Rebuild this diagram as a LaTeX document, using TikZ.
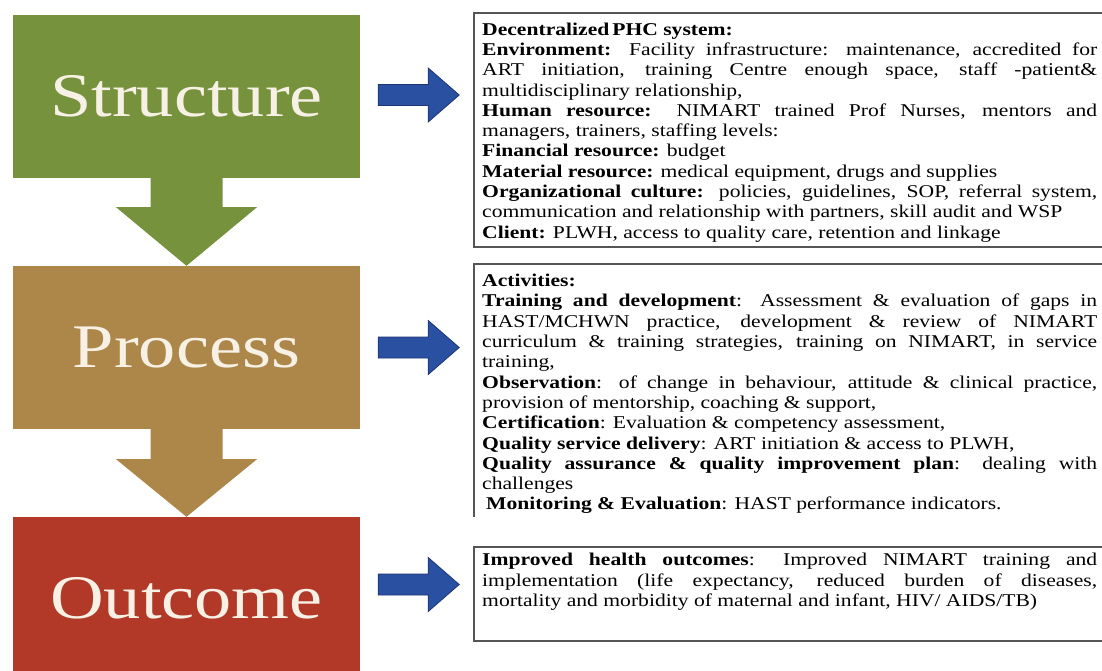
\documentclass[tikz,border=0pt]{standalone}
\usepackage{fontspec}
\setmainfont{Liberation Serif}[FakeStretch=1.2]
\usetikzlibrary{positioning,calc}

\definecolor{strucol}{RGB}{119,146,61}
\definecolor{proccol}{RGB}{173,134,73}
\definecolor{outccol}{RGB}{178,57,40}
\definecolor{labelcol}{RGB}{246,241,228}
\definecolor{arrcol}{RGB}{42,80,162}
\definecolor{arrdark}{RGB}{28,52,115}
\definecolor{linecol}{RGB}{85,85,85}

\tikzset{
  stage/.style={fill=#1, minimum width=347pt, minimum height=163pt, inner sep=0pt,
    text=labelcol, font=\fontsize{62}{70}\selectfont},
  info/.style={anchor=north west, text width=615pt, align=justify, inner sep=0pt,
    font=\fontsize{18}{20.3}\selectfont},
  boxline/.style={draw=linecol, line width=1.6pt},
}

\begin{document}
\begin{tikzpicture}[x=1pt, y=-1pt]
  \useasboundingbox (0,0) rectangle (1102,670);
  % stages
  \node[stage=strucol] (stru) at (186.5,96.5) {Structure};
  \node[stage=proccol] (proc) at (186.5,347.5) {Process};
  \node[stage=outccol] (outc) at (186.5,598.5) {Outcome};
  % arrows between stages
  \fill[strucol] ($(stru.south)+(-36,0)$) -- ++(0,29) -- ++(-34.5,0) -- (proc.north)
    -- ($(stru.south)+(70.5,29)$) -- ++(-34.5,0) -- ($(stru.south)+(36,0)$) -- cycle;
  \fill[proccol] ($(proc.south)+(-36,0)$) -- ++(0,30) -- ++(-34.5,0) -- (outc.north)
    -- ($(proc.south)+(70.5,30)$) -- ++(-34.5,0) -- ($(proc.south)+(36,0)$) -- cycle;
  % arrows to the text boxes
  \foreach \s/\dy in {stru/-1.5,proc/0,outc/-14}
    \filldraw[fill=arrcol, draw=arrdark, line width=0.8pt, line join=miter]
      ($(\s.east)+(18,\dy-10.5)$) -- ++(50,0) -- ++(0,-16.5) -- ++(31,27)
      -- ++(-31,27) -- ++(0,-16.5) -- ++(-50,0) -- cycle;
  % text boxes
  \node[info] (strutxt) at (482,22.5) {%
    \textbf{Decentralized\,PHC system:}\\
    \textbf{Environment:} Facility infrastructure: maintenance, accredited for\linebreak
    ART initiation, training Centre enough space, staff -patient\&\linebreak
    multidisciplinary relationship,\\
    \textbf{Human resource:} NIMART trained Prof Nurses, mentors and\linebreak
    managers, trainers, staffing levels:\\
    \textbf{Financial resource:} budget\\
    \textbf{Material resource:} medical equipment, drugs and supplies\\
    \textbf{Organizational culture:} policies, guidelines, SOP, referral system,\linebreak
    communication and relationship with partners, skill audit and WSP\\
    \textbf{Client:} PLWH, access to quality care, retention and linkage};
  \draw[boxline] (1110,13) -- (474,13) -- (474,247) -- (1110,247);

  \node[info] (proctxt) at (482,274) {%
    \textbf{Activities:}\\
    \textbf{Training and development}: Assessment \& evaluation of gaps in\linebreak
    HAST/MCHWN practice, development \& review of NIMART\linebreak
    curriculum \& training strategies, training on NIMART, in service\linebreak
    training,\\
    \textbf{Observation}: of change in behaviour, attitude \& clinical practice,\linebreak
    provision of mentorship, coaching \& support,\\
    \textbf{Certification}: Evaluation \& competency assessment,\\
    \textbf{Quality service delivery}: ART initiation \& access to PLWH,\\
    \textbf{Quality assurance \& quality improvement plan}: dealing with\linebreak
    challenges\\
    \hspace*{4pt}\textbf{Monitoring \& Evaluation}: HAST performance indicators.};
  \draw[boxline] (1110,264) -- (474,264) -- (474,517);

  \node[info] (outctxt) at (482,553) {%
    \textbf{Improved health outcomes}: Improved NIMART training and\linebreak
    implementation (life expectancy, reduced burden of diseases,\linebreak
    mortality and morbidity of maternal and infant, HIV/ AIDS/TB)};
  \draw[boxline] (1110,547) -- (474,547) -- (474,641) -- (1110,641);
\end{tikzpicture}
\end{document}
